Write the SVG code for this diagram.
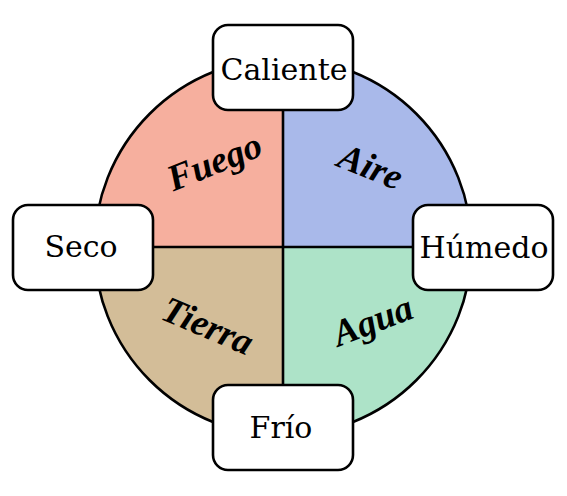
<svg xmlns="http://www.w3.org/2000/svg" width="567" height="496" viewBox="0 0 567 496">
<style>
.q{stroke:none}
.ln{stroke:#000;stroke-width:2.6;fill:none}
.box rect{fill:#fff;stroke:#000;stroke-width:2.6}
.box text{font-family:"DejaVu Serif",serif;font-size:30px;text-anchor:middle;fill:#000}
.el{font-family:"Liberation Serif",serif;font-style:italic;font-weight:bold;font-size:37px;text-anchor:middle;fill:#000}
</style>
<rect width="567" height="496" fill="#fff"/>
<g id="fuego">
<path class="q" d="M283,247 L95,247 A188,188 0 0 1 283,59 Z" fill="#F6AF9E"/>
<text class="el" transform="translate(219,173) rotate(-22)">Fuego</text>
</g>
<g id="aire">
<path class="q" d="M283,247 L283,59 A188,188 0 0 1 471,247 Z" fill="#A9B9EA"/>
<text class="el" transform="translate(366,178) rotate(22)">Aire</text>
</g>
<g id="agua">
<path class="q" d="M283,247 L471,247 A188,188 0 0 1 283,435 Z" fill="#ADE3C8"/>
<text class="el" transform="translate(377,332) rotate(-21)">Agua</text>
</g>
<g id="tierra">
<path class="q" d="M283,247 L283,435 A188,188 0 0 1 95,247 Z" fill="#D3BD98"/>
<text class="el" transform="translate(203,337) rotate(23)">Tierra</text>
</g>
<g id="connectors">
<circle class="ln" cx="283" cy="247" r="188.5"/>
<line class="ln" x1="153" y1="247" x2="413" y2="247"/>
<line class="ln" x1="283" y1="110" x2="283" y2="385"/>
</g>
<g id="caliente" class="box">
<rect x="213" y="25" width="140" height="85" rx="15"/>
<text x="284" y="80">Caliente</text>
</g>
<g id="seco" class="box">
<rect x="13" y="205" width="140" height="85" rx="15"/>
<text x="81" y="257">Seco</text>
</g>
<g id="humedo" class="box">
<rect x="413" y="205" width="140" height="85" rx="15"/>
<text x="484" y="258">Húmedo</text>
</g>
<g id="frio" class="box">
<rect x="213" y="385" width="140" height="85" rx="15"/>
<text x="281" y="438">Frío</text>
</g>
</svg>
